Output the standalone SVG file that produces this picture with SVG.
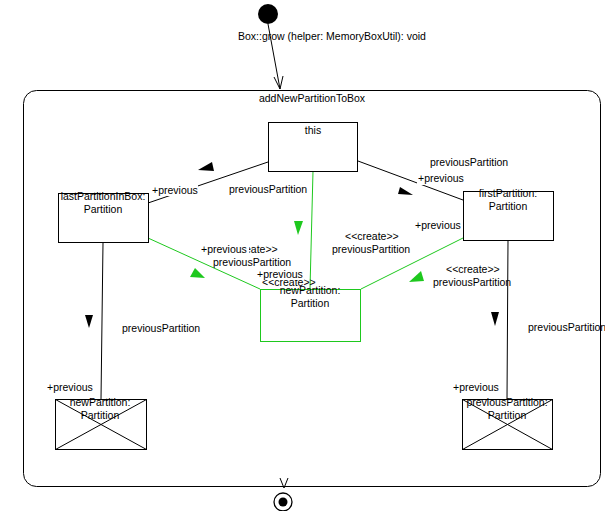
<svg xmlns="http://www.w3.org/2000/svg" width="605" height="511" viewBox="0 0 605 511">
  <style>
    text { font-family: "Liberation Sans", Arial, sans-serif; font-size: 10.5px; fill: #000; }
    .mid { text-anchor: middle; }
    .box { fill: #fff; stroke: #000; stroke-width: 1; }
    .gbox { fill: #fff; stroke: #1ec81e; stroke-width: 1; }
    .link { fill: none; stroke: #000; stroke-width: 1; }
    .glink { fill: none; stroke: #1ec81e; stroke-width: 1; }
    .bg { fill: #fff; }
    .dir { fill: #000; }
    .gdir { fill: #1ec81e; }
    .x { stroke: #000; stroke-width: 1; }
  </style>

  <!-- activity frame -->
  <g id="frame">
    <rect x="23.5" y="90.5" width="577" height="396" rx="13" ry="13" fill="#fff" stroke="#000" stroke-width="1"/>
    <text x="312" y="102" class="mid">addNewPartitionToBox</text>
  </g>

  <!-- initial node -->
  <g id="initial">
    <circle cx="268" cy="14" r="10" fill="#000"/>
    <text x="238" y="40">Box::grow (helper: MemoryBoxUtil): void</text>
  </g>

  <!-- final node -->
  <g id="final">
    <circle cx="283" cy="502" r="9" fill="#fff" stroke="#000" stroke-width="1.3"/>
    <circle cx="283" cy="502" r="4.5" fill="#000"/>
  </g>

  <!-- connectors -->
  <g id="connectors">
    <line class="link" x1="268" y1="24" x2="280" y2="89"/>
    <polyline class="link" points="274,77 280,89 283,76"/>
    <polyline class="link" points="280,478 284,488 288,478"/>

    <line class="link" x1="268" y1="162" x2="148" y2="203"/>
    <line class="link" x1="358" y1="161" x2="463" y2="200"/>
    <line class="link" x1="103" y1="243" x2="101" y2="399"/>
    <line class="link" x1="508" y1="240" x2="507" y2="399"/>

    <line class="glink" x1="313" y1="171" x2="310" y2="289"/>
    <line class="glink" x1="148" y1="238" x2="260" y2="289"/>
    <line class="glink" x1="463" y1="238" x2="361" y2="289"/>

    <!-- message direction markers -->
    <polygon class="dir" points="198,170 212,162 214,171"/>
    <polygon class="dir" points="400,187 398,194 413,195"/>
    <polygon class="dir" points="85,315 93,315 89,328"/>
    <polygon class="dir" points="491,312 499,312 495,326"/>
    <polygon class="gdir" points="294,221 303,221 298,235"/>
    <polygon class="gdir" points="190,277 195,268 205,278"/>
    <polygon class="gdir" points="409,282 421,271 424,281"/>

    <!-- link labels -->
    <text x="229" y="193">previousPartition</text>
    <rect class="bg" x="151" y="185" width="47" height="11"/>
    <text x="152" y="194">+previous</text>

    <text x="430" y="166">previousPartition</text>
    <rect class="bg" x="417" y="174" width="47" height="11"/>
    <text x="418" y="182">+previous</text>

    <text x="415" y="229">+previous</text>
    <text x="345" y="240">&lt;&lt;create&gt;&gt;</text>
    <text x="332" y="253">previousPartition</text>

    <text x="446" y="273">&lt;&lt;create&gt;&gt;</text>
    <text x="433" y="286">previousPartition</text>

    <text x="224" y="253">&lt;&lt;create&gt;&gt;</text>
    <rect class="bg" x="200" y="244" width="49" height="11"/>
    <text x="201" y="253">+previous</text>
    <text x="213" y="266">previousPartition</text>

    <text x="262" y="286">&lt;&lt;create&gt;&gt;</text>
    <rect class="bg" x="256" y="270" width="48" height="10"/>
    <text x="257" y="278">+previous</text>

    <text x="122" y="332">previousPartition</text>
    <text x="47" y="391">+previous</text>
    <text x="528" y="331">previousPartition</text>
    <text x="453" y="391">+previous</text>
  </g>

  <g id="this">
    <rect class="box" x="268.5" y="122.5" width="89" height="49"/>
    <text x="313" y="134" class="mid">this</text>
  </g>

  <g id="lastPartitionInBox">
    <rect class="box" x="58.5" y="193.5" width="90" height="49"/>
    <text x="103" y="200" class="mid">lastPartitionInBox:</text>
    <text x="103" y="213" class="mid">Partition</text>
  </g>

  <g id="firstPartition">
    <rect class="box" x="463.5" y="191.5" width="90" height="49"/>
    <text x="508" y="197" class="mid">firstPartition:</text>
    <text x="508" y="210" class="mid">Partition</text>
  </g>

  <g id="newPartition">
    <rect class="gbox" x="260.5" y="289.5" width="100" height="52"/>
    <text x="310" y="294" class="mid">newPartition:</text>
    <text x="310" y="307" class="mid">Partition</text>
  </g>

  <g id="newPartitionDestroyed">
    <rect class="box" x="55.5" y="399.5" width="91" height="50"/>
    <line class="x" x1="55.5" y1="399.5" x2="146.5" y2="449.5"/>
    <line class="x" x1="146.5" y1="399.5" x2="55.5" y2="449.5"/>
    <text x="100" y="406" class="mid">newPartition:</text>
    <text x="100" y="419" class="mid">Partition</text>
  </g>

  <g id="previousPartitionDestroyed">
    <rect class="box" x="462.5" y="399.5" width="90" height="50"/>
    <line class="x" x1="462.5" y1="399.5" x2="552.5" y2="449.5"/>
    <line class="x" x1="552.5" y1="399.5" x2="462.5" y2="449.5"/>
    <text x="507" y="406" class="mid">previousPartition:</text>
    <text x="507" y="419" class="mid">Partition</text>
  </g>
</svg>
